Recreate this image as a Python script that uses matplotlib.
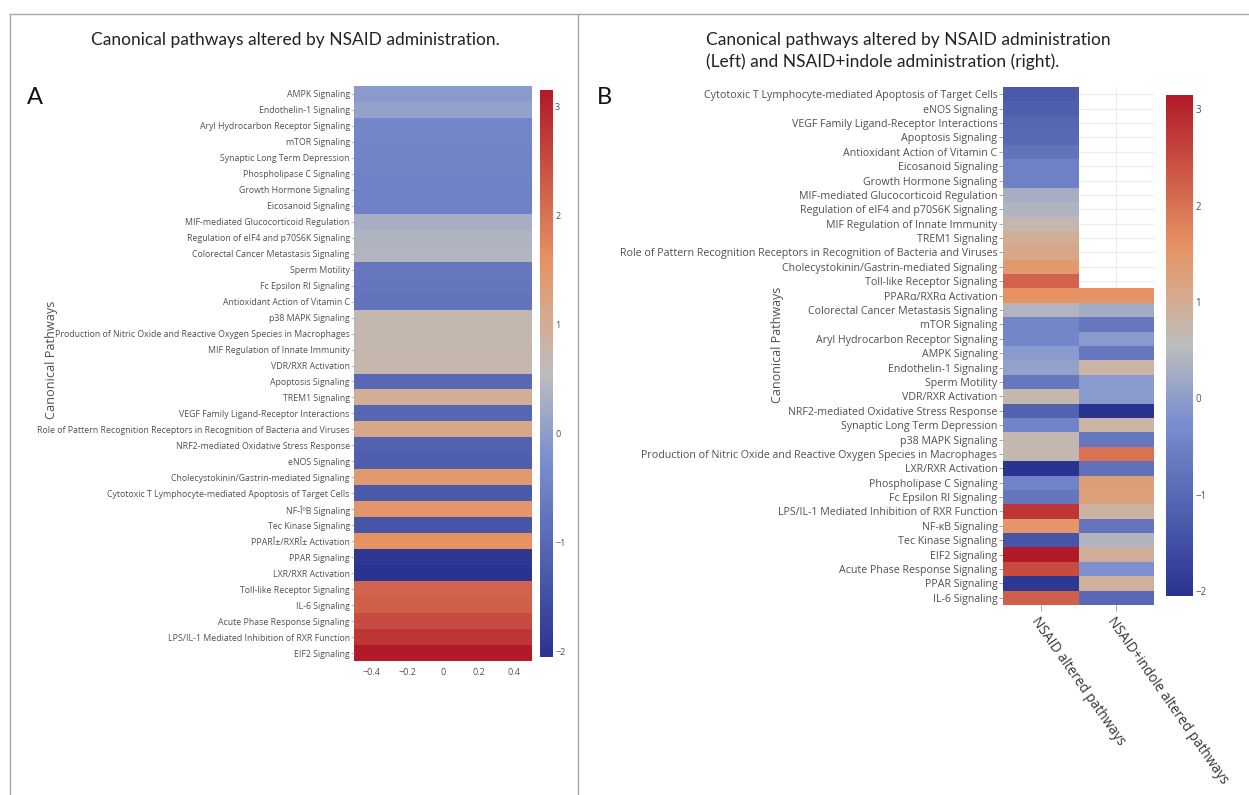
#!/usr/bin/env python3
# Canonical pathways heatmaps (NSAID vs NSAID+indole), two panels

import numpy as np
import matplotlib
matplotlib.use("Agg")
import matplotlib.pyplot as plt
from matplotlib.colors import LinearSegmentedColormap, Normalize
from matplotlib.lines import Line2D

# ---- data -------------------------------------------------------------
# panel A, top to bottom: z-score per pathway (NSAID)
a_paths = ["AMPK Signaling", "Endothelin-1 Signaling",
           "Aryl Hydrocarbon Receptor Signaling", "mTOR Signaling",
           "Synaptic Long Term Depression", "Phospholipase C Signaling",
           "Growth Hormone Signaling", "Eicosanoid Signaling",
           "MIF-mediated Glucocorticoid Regulation",
           "Regulation of eIF4 and p70S6K Signaling",
           "Colorectal Cancer Metastasis Signaling", "Sperm Motility",
           "Fc Epsilon RI Signaling", "Antioxidant Action of Vitamin C",
           "p38 MAPK Signaling",
           "Production of Nitric Oxide and Reactive Oxygen Species in Macrophages",
           "MIF Regulation of Innate Immunity", "VDR/RXR Activation",
           "Apoptosis Signaling", "TREM1 Signaling",
           "VEGF Family Ligand-Receptor Interactions",
           "Role of Pattern Recognition Receptors in Recognition of Bacteria and Viruses",
           "NRF2-mediated Oxidative Stress Response", "eNOS Signaling",
           "Cholecystokinin/Gastrin-mediated Signaling",
           "Cytotoxic T Lymphocyte-mediated Apoptosis of Target Cells",
           "NF-\u00ce\u00baB Signaling", "Tec Kinase Signaling",
           "PPAR\u00ce\u00b1/RXR\u00ce\u00b1 Activation", "PPAR Signaling",
           "LXR/RXR Activation", "Toll-like Receptor Signaling",
           "IL-6 Signaling", "Acute Phase Response Signaling",
           "LPS/IL-1 Mediated Inhibition of RXR Function", "EIF2 Signaling"]
a_nsaid = [-0.05, 0.08, -0.42, -0.44, -0.46, -0.48, -0.50, -0.52,
           0.30, 0.40, 0.42, -0.70, -0.72, -0.78,
           0.70, 0.71, 0.71, 0.72, -1.00, 0.97, -1.05, 1.12,
           -1.15, -1.20, 1.43, -1.30, 1.50, -1.38, 1.58, -1.95,
           -2.05, 2.20, 2.25, 2.50, 2.80, 3.15]

# panel B, top to bottom: NSAID column and NSAID+indole column (nan = not altered)
b_paths = ["Cytotoxic T Lymphocyte-mediated Apoptosis of Target Cells",
           "eNOS Signaling", "VEGF Family Ligand-Receptor Interactions",
           "Apoptosis Signaling", "Antioxidant Action of Vitamin C",
           "Eicosanoid Signaling", "Growth Hormone Signaling",
           "MIF-mediated Glucocorticoid Regulation",
           "Regulation of eIF4 and p70S6K Signaling",
           "MIF Regulation of Innate Immunity", "TREM1 Signaling",
           "Role of Pattern Recognition Receptors in Recognition of Bacteria and Viruses",
           "Cholecystokinin/Gastrin-mediated Signaling",
           "Toll-like Receptor Signaling", "PPAR\u03b1/RXR\u03b1 Activation",
           "Colorectal Cancer Metastasis Signaling", "mTOR Signaling",
           "Aryl Hydrocarbon Receptor Signaling", "AMPK Signaling",
           "Endothelin-1 Signaling", "Sperm Motility", "VDR/RXR Activation",
           "NRF2-mediated Oxidative Stress Response",
           "Synaptic Long Term Depression", "p38 MAPK Signaling",
           "Production of Nitric Oxide and Reactive Oxygen Species in Macrophages",
           "LXR/RXR Activation", "Phospholipase C Signaling",
           "Fc Epsilon RI Signaling",
           "LPS/IL-1 Mediated Inhibition of RXR Function",
           "NF-\u03baB Signaling", "Tec Kinase Signaling", "EIF2 Signaling",
           "Acute Phase Response Signaling", "PPAR Signaling", "IL-6 Signaling"]
b_nsaid = [-1.30, -1.20, -1.05, -1.00, -0.78, -0.52, -0.50, 0.30, 0.40,
           0.71, 0.97, 1.12, 1.43, 2.20, 1.58, 0.42, -0.44, -0.42, -0.05,
           0.08, -0.70, 0.72, -1.15, -0.46, 0.70, 0.71, -2.05, -0.48,
           -0.72, 2.80, 1.50, -1.38, 3.15, 2.50, -1.95, 2.25]
b_indole = [np.nan] * 14 + [1.58, 0.25, -0.70, -0.05, -0.70, 0.80, -0.05,
                            -0.05, -2.05, 0.80, -0.70, 2.00, -0.85, 1.35,
                            1.30, 0.85, -0.75, 0.40, 0.95, -0.20, 0.90, -1.00]
b_cols = ["NSAID altered pathways", "NSAID+indole altered pathways"]

a_title = "Canonical pathways altered by NSAID administration."
b_title = ("Canonical pathways altered by NSAID administration\n"
           "(Left) and NSAID+indole administration (right).")

# ---- style ------------------------------------------------------------
W, H = 1249, 795
cmap = LinearSegmentedColormap.from_list("rdbu_plotly", [
    (0.0, "#2a3490"), (0.35, "#7b8fd0"), (0.5, "#bdbdbd"),
    (0.6, "#d6aa8c"), (0.7, "#e69262"), (1.0, "#b21a28")])
norm = Normalize(vmin=-2.05, vmax=3.15)
tick_col = "#505050"


def px_axes(fig, x0, y0, x1, y1):
    """axes from pixel box (top-left origin)"""
    return fig.add_axes([x0 / W, 1 - y1 / H, (x1 - x0) / W, (y1 - y0) / H])


def add_cbar(fig, mesh, box, fs):
    cax = px_axes(fig, *box)
    cb = fig.colorbar(mesh, cax=cax)
    cb.outline.set_visible(False)
    cb.set_ticks([-2, -1, 0, 1, 2, 3])
    cax.tick_params(length=0, pad=1.5, labelsize=fs, labelcolor=tick_col)
    for lab in cax.get_yticklabels():
        lab.set_fontfamily("Open Sans")
    return cb


fig = plt.figure(figsize=(W / 100, H / 100), dpi=100)
fig.patch.set_facecolor("white")

# frame lines
fig.add_artist(Line2D([10 / W, 1], [1 - 14 / H] * 2, color="#a8a8a8", lw=1))
fig.add_artist(Line2D([10 / W] * 2, [0, 1 - 14 / H], color="#a8a8a8", lw=1))
fig.add_artist(Line2D([578 / W] * 2, [0, 1 - 14 / H], color="#a8a8a8", lw=1))

# ---- panel A ----------------------------------------------------------
axA = px_axes(fig, 354, 86, 532, 661)
zA = np.array(a_nsaid).reshape(-1, 1)
meshA = axA.pcolormesh([-0.5, 0.5], np.arange(len(a_paths) + 1), zA,
                       cmap=cmap, norm=norm)
axA.set_ylim(len(a_paths), 0)
axA.set_xlim(-0.5, 0.5)
axA.set_yticks(np.arange(len(a_paths)) + 0.5)
axA.set_yticklabels(a_paths, fontsize=6.3, color=tick_col, family="Open Sans")
axA.set_xticks([-0.4, -0.2, 0, 0.2, 0.4])
axA.set_xticklabels(["\u22120.4", "\u22120.2", "0", "0.2", "0.4"],
                    fontsize=6.5, color=tick_col, family="Open Sans")
axA.tick_params(axis="y", length=2, width=0.5, color="#999999", pad=1)
axA.tick_params(axis="x", length=0, pad=5)
for s in axA.spines.values():
    s.set_visible(False)
fig.text(52 / W, 1 - 360 / H, "Canonical Pathways", rotation=90,
         ha="center", va="center", fontsize=9.2, color=tick_col,
         family="Open Sans")
add_cbar(fig, meshA, (540, 90, 553, 657), 6.5)

fig.text(295 / W, 1 - 40 / H, a_title, ha="center", va="center",
         fontsize=12.5, family="Lato", color="#222222")
fig.text(27 / W, 1 - 97 / H, "A", ha="left", va="center", fontsize=17,
         family="Lato", color="#111111")

# ---- panel B ----------------------------------------------------------
axB = px_axes(fig, 1003, 87, 1154, 605)
zB = np.ma.masked_invalid(np.column_stack([b_nsaid, b_indole]))
meshB = axB.pcolormesh(np.arange(3), np.arange(len(b_paths) + 1), zB,
                       cmap=cmap, norm=norm, zorder=2)
axB.set_ylim(len(b_paths), 0)
axB.set_xlim(0, 2)
axB.set_yticks(np.arange(len(b_paths)) + 0.5)
axB.set_yticklabels(b_paths, fontsize=7.7, color=tick_col, family="Open Sans")
axB.set_xticks([0.5, 1.5])
axB.set_xticklabels(b_cols, fontsize=9.8, color="#333333", family="Open Sans",
                    rotation=-55, ha="left", va="top", rotation_mode="anchor")
axB.tick_params(axis="y", length=3, width=0.6, color="#999999", pad=1)
axB.tick_params(axis="x", length=4, width=0.6, color="#999999", pad=3)
axB.grid(True, color="#ececec", lw=0.8, zorder=0)
axB.set_axisbelow(True)
for s in axB.spines.values():
    s.set_visible(False)
fig.text(778 / W, 1 - 345 / H, "Canonical Pathways", rotation=90,
         ha="center", va="center", fontsize=9, color=tick_col,
         family="Open Sans")
add_cbar(fig, meshB, (1166, 95, 1193, 596), 7)

fig.text(706 / W, 1 - 51 / H, b_title, ha="left", va="center",
         fontsize=12.5, family="Lato", color="#222222", linespacing=1.4)
fig.text(597 / W, 1 - 97 / H, "B", ha="left", va="center", fontsize=17,
         family="Lato", color="#111111")

fig.savefig("out.png", dpi=100)
